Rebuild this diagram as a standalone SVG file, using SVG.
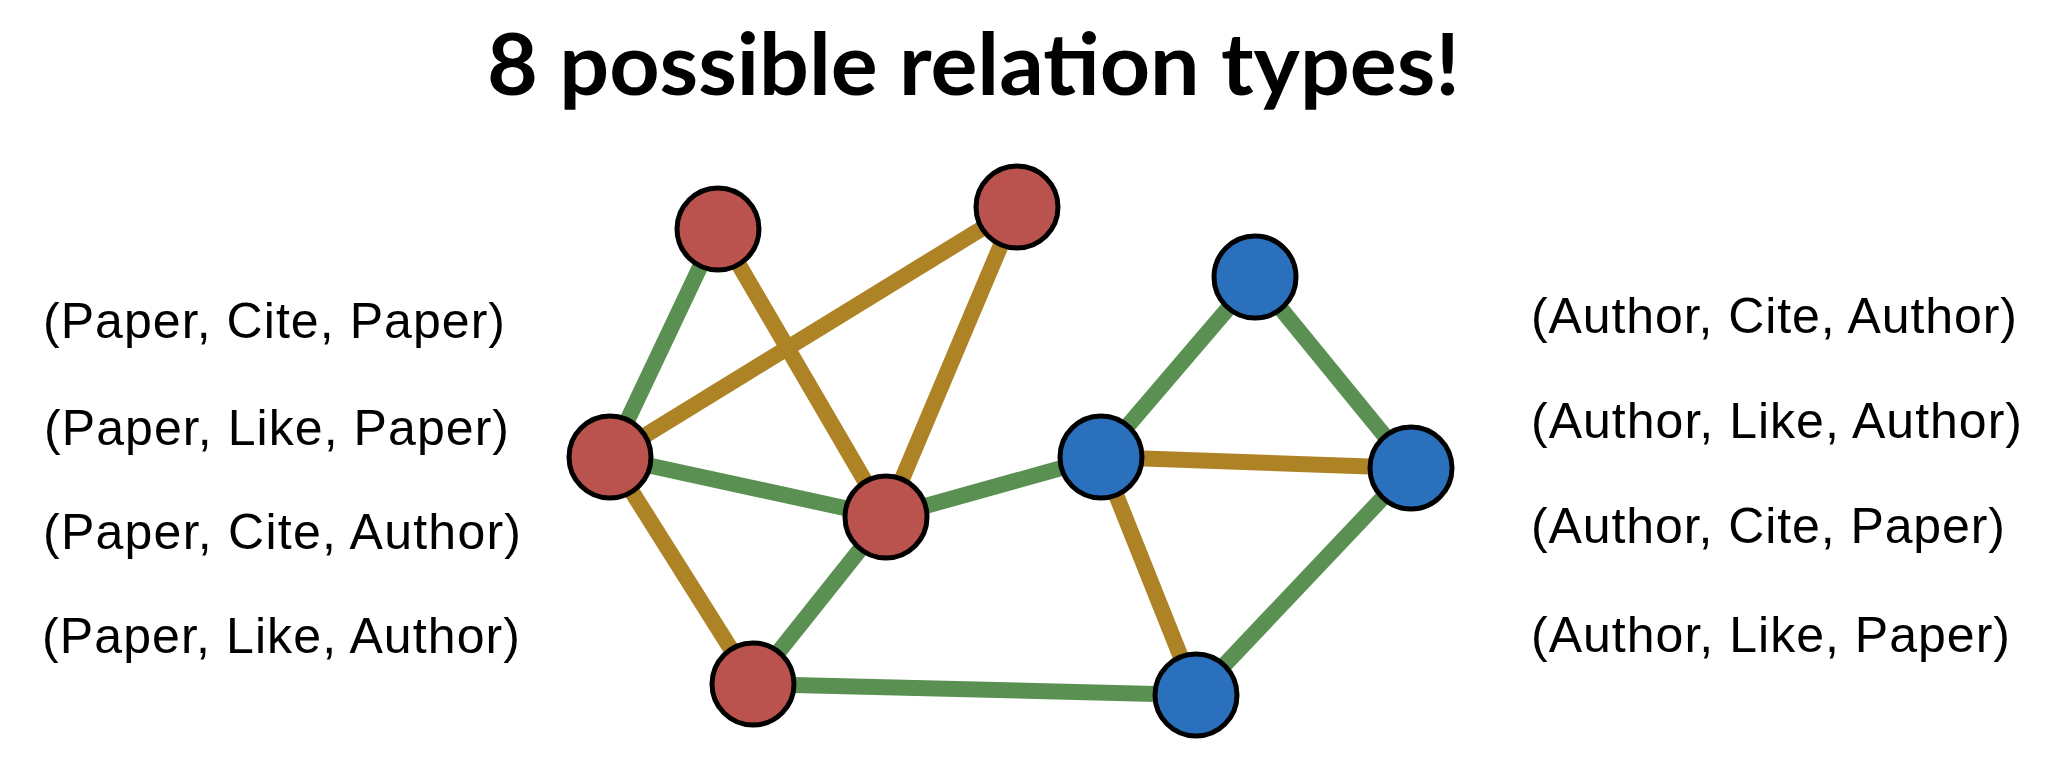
<svg xmlns="http://www.w3.org/2000/svg" width="2060" height="758" viewBox="0 0 2060 758">
<style>
.title{font-family:Lato,"Open Sans","Liberation Sans",sans-serif;font-weight:bold;font-size:86px;fill:#000}
.lbl{font-family:"Liberation Sans",Arial,sans-serif;font-size:50px;fill:#000}
.g{stroke:#5A9152;stroke-width:16;fill:none}
.o{stroke:#AE8326;stroke-width:16;fill:none}
.paper{fill:#BA524D;stroke:#000;stroke-width:5}
.author{fill:#2A70BC;stroke:#000;stroke-width:5}
</style>
<rect width="2060" height="758" fill="#fff"/>
<text class="title" x="487" y="95" textLength="973" lengthAdjust="spacingAndGlyphs">8 possible relation types!</text>
<g id="labels-left">
<text class="lbl" x="43" y="338" textLength="462" lengthAdjust="spacing">(Paper, Cite, Paper)</text>
<text class="lbl" x="44" y="445" textLength="465" lengthAdjust="spacing">(Paper, Like, Paper)</text>
<text class="lbl" x="43" y="549" textLength="478" lengthAdjust="spacing">(Paper, Cite, Author)</text>
<text class="lbl" x="42" y="653" textLength="478" lengthAdjust="spacing">(Paper, Like, Author)</text>
</g>
<g id="labels-right">
<text class="lbl" x="1531" y="333" textLength="486" lengthAdjust="spacing">(Author, Cite, Author)</text>
<text class="lbl" x="1531" y="438" textLength="491" lengthAdjust="spacing">(Author, Like, Author)</text>
<text class="lbl" x="1531" y="543" textLength="474" lengthAdjust="spacing">(Author, Cite, Paper)</text>
<text class="lbl" x="1531" y="652" textLength="479" lengthAdjust="spacing">(Author, Like, Paper)</text>
</g>
<g id="connectors">
<line class="g" x1="718" y1="229" x2="610" y2="457"/>
<line class="o" x1="718" y1="229" x2="886" y2="517"/>
<line class="o" x1="1017" y1="207" x2="610" y2="457"/>
<line class="o" x1="1017" y1="207" x2="886" y2="517"/>
<line class="g" x1="610" y1="457" x2="886" y2="517"/>
<line class="o" x1="610" y1="457" x2="753" y2="684"/>
<line class="g" x1="753" y1="684" x2="886" y2="517"/>
<line class="g" x1="886" y1="517" x2="1101" y2="457"/>
<line class="g" x1="753" y1="684" x2="1196" y2="695"/>
<line class="g" x1="1101" y1="457" x2="1255" y2="277"/>
<line class="g" x1="1255" y1="277" x2="1411" y2="468"/>
<line class="o" x1="1101" y1="457" x2="1411" y2="468"/>
<line class="o" x1="1101" y1="457" x2="1196" y2="695"/>
<line class="g" x1="1411" y1="468" x2="1196" y2="695"/>
</g>
<g id="paper1"><circle class="paper" cx="718" cy="229" r="41"/></g>
<g id="paper2"><circle class="paper" cx="1017" cy="207" r="41"/></g>
<g id="paper3"><circle class="paper" cx="610" cy="457" r="41"/></g>
<g id="paper4"><circle class="paper" cx="886" cy="517" r="41"/></g>
<g id="paper5"><circle class="paper" cx="753" cy="684" r="41"/></g>
<g id="author1"><circle class="author" cx="1255" cy="277" r="41"/></g>
<g id="author2"><circle class="author" cx="1101" cy="457" r="41"/></g>
<g id="author3"><circle class="author" cx="1411" cy="468" r="41"/></g>
<g id="author4"><circle class="author" cx="1196" cy="695" r="41"/></g>
</svg>
